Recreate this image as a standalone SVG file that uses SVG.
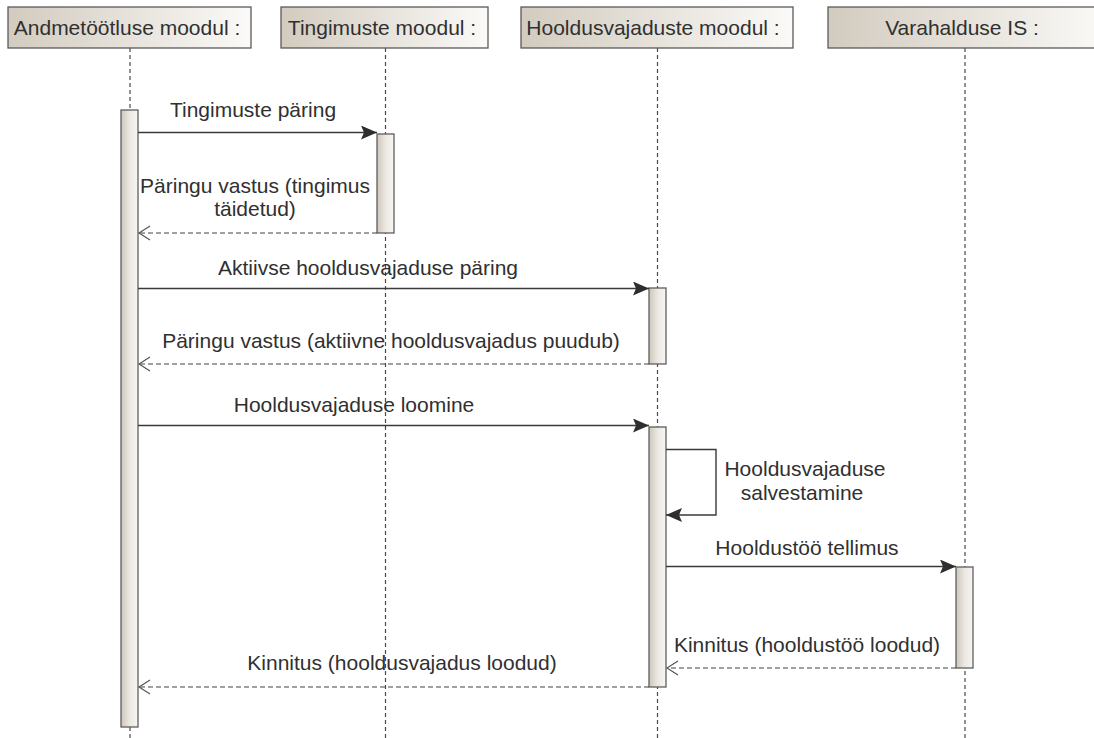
<svg xmlns="http://www.w3.org/2000/svg" width="1094" height="738" viewBox="0 0 1094 738">
<defs>
<linearGradient id="hdr" x1="0" y1="0" x2="1" y2="0">
<stop offset="0" stop-color="#d2cbbf"/>
<stop offset="1" stop-color="#fbfaf8"/>
</linearGradient>
<linearGradient id="bar" x1="0" y1="0" x2="1" y2="0">
<stop offset="0" stop-color="#cdc6bb"/>
<stop offset="0.5" stop-color="#ebe7e1"/>
<stop offset="1" stop-color="#f8f6f3"/>
</linearGradient>
<marker id="filled" markerUnits="userSpaceOnUse" markerWidth="18" markerHeight="16" refX="16" refY="7" orient="auto">
<path d="M0,0 L16,7 L0,14 L3,7 Z" fill="#2e2e2e"/>
</marker>
<marker id="open" markerUnits="userSpaceOnUse" markerWidth="16" markerHeight="18" refX="13" refY="8" orient="auto">
<path d="M2,1 L13,8 L2,15" fill="none" stroke="#555" stroke-width="1.2"/>
</marker>
</defs>
<style>
.hdr{fill:url(#hdr);stroke:#5a5a5a;stroke-width:1.3}
.life{stroke:#4a4a4a;stroke-width:1.2;stroke-dasharray:4 3;fill:none}
.bar{fill:url(#bar);stroke:#5e5e5e;stroke-width:1.3}
.t{font-family:"Liberation Sans",Arial,sans-serif;font-size:21px;fill:#303030;text-anchor:middle}
.call{stroke:#3a3a3a;stroke-width:1.4;fill:none;marker-end:url(#filled)}
.ret{stroke:#444;stroke-width:1.2;stroke-dasharray:5 3;fill:none;marker-end:url(#open)}
</style>
<rect width="1094" height="738" fill="#ffffff"/>

<g id="node-andmetootlus">
<line class="life" x1="130" y1="48" x2="130" y2="738"/>
<rect class="hdr" x="8" y="7" width="243" height="41"/>
<text class="t" x="127" y="35">Andmetöötluse moodul :</text>
<rect class="bar" x="121" y="110" width="17" height="617"/>
</g>

<g id="node-tingimuste">
<line class="life" x1="385.5" y1="48" x2="385.5" y2="738"/>
<rect class="hdr" x="281" y="7" width="207" height="41"/>
<text class="t" x="382" y="35">Tingimuste moodul :</text>
<rect class="bar" x="377" y="134" width="17" height="99"/>
</g>

<g id="node-hooldusvajaduste">
<line class="life" x1="657.5" y1="48" x2="657.5" y2="738"/>
<rect class="hdr" x="521" y="7" width="272" height="41"/>
<text class="t" x="653" y="35">Hooldusvajaduste moodul :</text>
<rect class="bar" x="649" y="288" width="17" height="76"/>
<rect class="bar" x="649" y="427" width="17" height="260"/>
</g>

<g id="node-varahalduse">
<line class="life" x1="965" y1="48" x2="965" y2="738"/>
<rect class="hdr" x="828" y="7" width="280" height="41"/>
<text class="t" x="962" y="35">Varahalduse IS :</text>
<rect class="bar" x="956" y="567" width="17" height="101"/>
</g>

<g id="connectors">
<line class="call" x1="138" y1="132.5" x2="377" y2="132.5"/>
<text class="t" x="253" y="117">Tingimuste päring</text>

<line class="ret" x1="377" y1="233" x2="139" y2="233"/>
<text class="t" x="255" y="193">Päringu vastus (tingimus</text>
<text class="t" x="255" y="216">täidetud)</text>

<line class="call" x1="138" y1="288.5" x2="649" y2="288.5"/>
<text class="t" x="368" y="275">Aktiivse hooldusvajaduse päring</text>

<line class="ret" x1="649" y1="364" x2="139" y2="364"/>
<text class="t" x="391" y="348">Päringu vastus (aktiivne hooldusvajadus puudub)</text>

<line class="call" x1="138" y1="425.5" x2="649" y2="425.5"/>
<text class="t" x="354" y="412">Hooldusvajaduse loomine</text>

<path class="call" d="M666,449.5 L716,449.5 L716,515 L666,515"/>
<text class="t" x="805" y="476">Hooldusvajaduse</text>
<text class="t" x="802" y="500">salvestamine</text>

<line class="call" x1="666" y1="566.5" x2="956" y2="566.5"/>
<text class="t" x="807" y="555">Hooldustöö tellimus</text>

<line class="ret" x1="956" y1="668" x2="667" y2="668"/>
<text class="t" x="807" y="652">Kinnitus (hooldustöö loodud)</text>

<line class="ret" x1="649" y1="687" x2="139" y2="687"/>
<text class="t" x="402" y="670">Kinnitus (hooldusvajadus loodud)</text>
</g>
</svg>
